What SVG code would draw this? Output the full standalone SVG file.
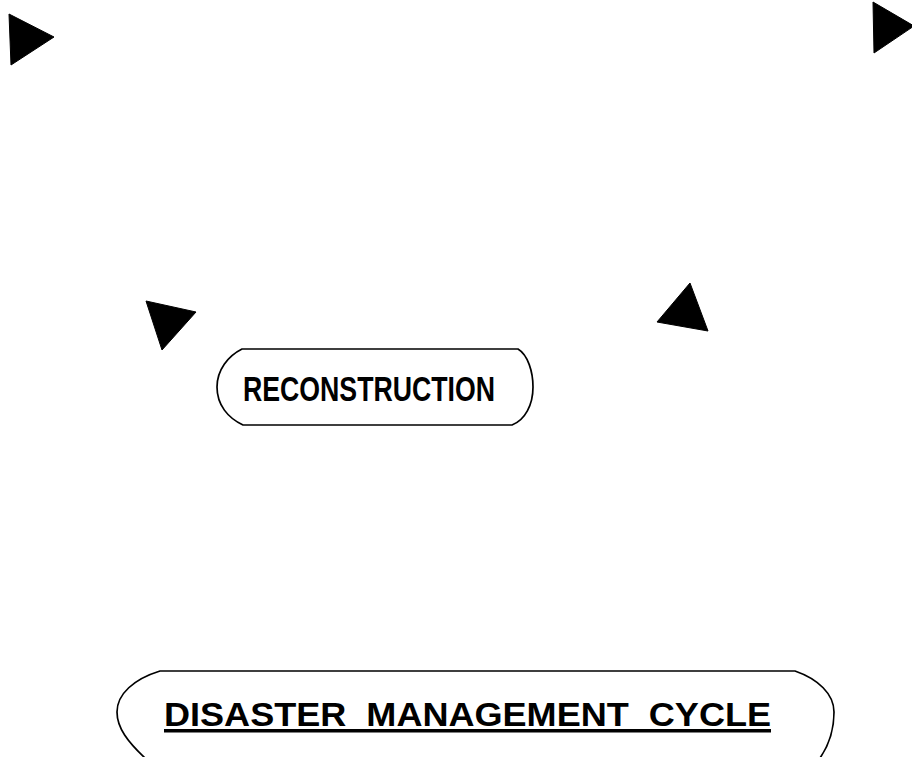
<svg xmlns="http://www.w3.org/2000/svg" width="912" height="757" viewBox="0 0 912 757">
<style>
.box{fill:#fff;stroke:#000;stroke-width:1.7;stroke-linejoin:round}
.lbl{font-family:"Liberation Sans",Arial,sans-serif;font-weight:bold;fill:#000}
.head{fill:#000;stroke:#000;stroke-width:1;stroke-linejoin:round}
</style>
<rect width="912" height="757" fill="#fff"/>
<g id="connectors">
<polygon class="head" points="9,14 54,37 11,65"/>
<polygon class="head" points="873,2 914,26 874,53"/>
<polygon class="head" points="146,301 196,312 162,350"/>
<polygon class="head" points="690,283 708,331 657,322"/>
</g>
<g id="reconstruction">
<path class="box" d="M242,349 L518,349 C528,355 533,372 533,387 C533,405 525,420 512,425 L243,425 C228,418 217,405 217,387 C217,370 228,356 242,349 Z"/>
<text class="lbl" x="243" y="401" font-size="35" textLength="252" lengthAdjust="spacingAndGlyphs">RECONSTRUCTION</text>
</g>
<g id="title">
<path class="box" d="M145,758 C128,742 117,728 117,712 C117,694 134,679 160,671 L795,671 C818,679 834,694 834,712 C834,730 829,745 820,758"/>
<text class="lbl" x="164" y="726" font-size="34" textLength="607" lengthAdjust="spacingAndGlyphs" xml:space="preserve">DISASTER  MANAGEMENT  CYCLE</text>
<rect x="164" y="729" width="607" height="3.5" fill="#000"/>
</g>
</svg>
